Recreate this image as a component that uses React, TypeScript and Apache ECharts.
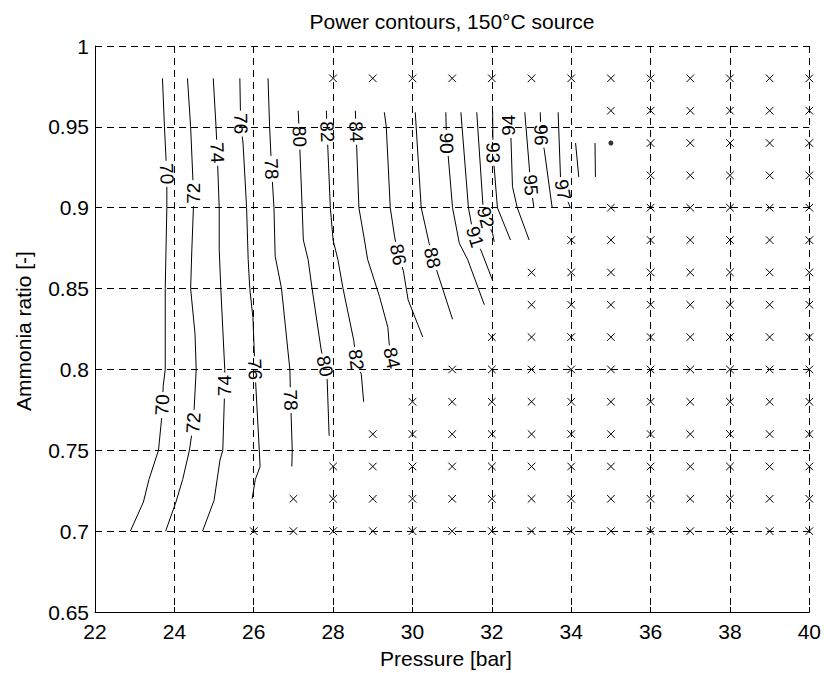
import React, { useEffect, useRef } from 'react';
import * as echarts from 'echarts';

const FONT = '"Liberation Sans", Arial, Helvetica, sans-serif';

// ---- axis ticks ----
const xTicks = [22, 24, 26, 28, 30, 32, 34, 36, 38, 40];
const yTicks = [0.65, 0.7, 0.75, 0.8, 0.85, 0.9, 0.95, 1];

// ---- evaluation grid (infeasible points marked with x) ----
const pressureGrid = [23, 24, 25, 26, 27, 28, 29, 30, 31, 32, 33, 34, 35, 36, 37, 38, 39, 40];
const ratioRows = [0.98, 0.96, 0.94, 0.92, 0.9, 0.88, 0.86, 0.84, 0.82, 0.8, 0.78, 0.76, 0.74, 0.72, 0.7];
const firstInfeasiblePressure = [28, 35, 36, 36, 35, 34, 33, 33, 32, 31, 30, 29, 28, 27, 26];
const optimumPoint = [35, 0.94];

// ---- contour lines: [pressure, ammonia ratio] ----
const contourLevels = [70, 72, 74, 76, 78, 80, 82, 84, 86, 88, 90, 91, 92, 93, 94, 95, 96, 97, 98, 99];

const contour70 = [[23.70, 0.98], [23.75, 0.95], [23.81, 0.92], [23.81, 0.9], [23.77, 0.85], [23.77, 0.8], [23.72, 0.79], [23.68, 0.77], [23.60, 0.75], [23.36, 0.732], [23.22, 0.718], [22.89, 0.7]];
const contour72 = [[24.33, 0.98], [24.41, 0.95], [24.48, 0.91], [24.48, 0.9], [24.44, 0.874], [24.41, 0.85], [24.52, 0.822], [24.55, 0.8], [24.48, 0.767], [24.38, 0.75], [24.21, 0.732], [24.04, 0.718], [23.78, 0.7]];
const contour74 = [[24.98, 0.98], [25.05, 0.95], [25.08, 0.934], [25.13, 0.9], [25.13, 0.874], [25.17, 0.85], [25.27, 0.8], [25.27, 0.79], [25.22, 0.75], [25.15, 0.744], [25.0, 0.719], [24.71, 0.7]];
const contour76 = [[25.65, 0.98], [25.67, 0.952], [25.73, 0.94], [25.82, 0.9], [25.86, 0.868], [25.90, 0.85], [25.98, 0.832], [26.03, 0.8], [26.14, 0.75], [26.16, 0.74], [26.04, 0.732], [25.96, 0.72]];
const contour78 = [[26.36, 0.98], [26.40, 0.95], [26.45, 0.924], [26.51, 0.9], [26.54, 0.87], [26.70, 0.85], [26.91, 0.8], [26.93, 0.781], [26.97, 0.75], [26.96, 0.74]];
const contour80 = [[27.12, 0.96], [27.15, 0.944], [27.22, 0.9], [27.25, 0.88], [27.37, 0.868], [27.47, 0.85], [27.70, 0.812], [27.79, 0.802], [27.85, 0.794], [27.90, 0.759]];
const contour82 = [[27.83, 0.96], [27.85, 0.947], [27.93, 0.9], [28.0, 0.88], [28.12, 0.868], [28.25, 0.85], [28.52, 0.818], [28.58, 0.806], [28.71, 0.797], [28.77, 0.78]];
const contour84 = [[28.56, 0.96], [28.58, 0.947], [28.65, 0.9], [28.79, 0.88], [28.87, 0.868], [29.17, 0.845], [29.38, 0.826], [29.42, 0.814], [29.48, 0.807], [29.55, 0.8]];
const contour86 = [[29.29, 0.959], [29.34, 0.95], [29.44, 0.9], [29.55, 0.882], [29.64, 0.871], [29.77, 0.861], [29.89, 0.843], [30.26, 0.82]];
const contour88 = [[30.07, 0.959], [30.22, 0.9], [30.42, 0.878], [30.50, 0.869], [30.60, 0.862], [31.01, 0.831]];
const contour90 = [[30.84, 0.959], [30.86, 0.94], [30.90, 0.932], [31.01, 0.9], [31.18, 0.878], [31.39, 0.868], [31.81, 0.84]];
const contour91 = [[31.22, 0.959], [31.41, 0.9], [31.50, 0.888], [31.60, 0.88], [31.72, 0.874], [32.02, 0.855]];
const contour92 = [[31.62, 0.959], [31.78, 0.9], [31.84, 0.894], [31.95, 0.888], [32.02, 0.884], [32.06, 0.879]];
const contour93 = [[32.02, 0.959], [32.03, 0.934], [32.14, 0.9], [32.47, 0.88]];
const contour94 = [[32.42, 0.959], [32.42, 0.951], [32.48, 0.944], [32.52, 0.913], [32.64, 0.9], [32.94, 0.88]];
const contour95 = [[32.83, 0.959], [32.98, 0.914], [33.06, 0.9]];
const contour96 = [[33.22, 0.959], [33.24, 0.945], [33.32, 0.936], [33.52, 0.9]];
const contour97 = [[33.67, 0.959], [33.73, 0.919], [33.79, 0.911], [33.88, 0.906], [33.98, 0.9]];
const contour98 = [[34.11, 0.94], [34.19, 0.919]];
const contour99 = [[34.60, 0.94], [34.61, 0.919]];

const contourLines = [contour70, contour72, contour74, contour76, contour78, contour80, contour82, contour84, contour86, contour88, contour90, contour91, contour92, contour93, contour94, contour95, contour96, contour97, contour98, contour99];

// ammonia ratio at which each contour label is centred
const contourLabelRatios = [
  [0.921, 0.778], [0.909, 0.767], [0.934, 0.79], [0.952, 0.8], [0.924, 0.781],
  [0.944, 0.802], [0.947, 0.806], [0.947, 0.807], [0.871], [0.869],
  [0.94], [0.882], [0.894], [0.934], [0.951], [0.914], [0.945], [0.911], [], []
];

const HALF_GAP = 13;

function renderContour(params: any, api: any) {
  const idx = api.value(2);
  const pts = contourLines[idx];
  const px = pts.map((p) => api.coord(p));
  const s = [0];
  for (let i = 1; i < px.length; i++) {
    s.push(s[i - 1] + Math.hypot(px[i][0] - px[i - 1][0], px[i][1] - px[i - 1][1]));
  }
  const total = s[s.length - 1];
  const children: any[] = [];
  const gaps: number[][] = [];
  for (const la of contourLabelRatios[idx]) {
    for (let k = 0; k < pts.length - 1; k++) {
      const a0 = pts[k][1];
      const a1 = pts[k + 1][1];
      if (a0 !== a1 && (a0 - la) * (a1 - la) <= 0) {
        const t = (a0 - la) / (a0 - a1);
        const x = px[k][0] + t * (px[k + 1][0] - px[k][0]);
        const y = px[k][1] + t * (px[k + 1][1] - px[k][1]);
        const sc = s[k] + t * (s[k + 1] - s[k]);
        let ang = Math.atan2(-(px[k + 1][1] - px[k][1]), px[k + 1][0] - px[k][0]);
        if (ang > Math.PI / 2) ang -= Math.PI;
        if (ang <= -Math.PI / 2) ang += Math.PI;
        gaps.push([sc - HALF_GAP, sc + HALF_GAP]);
        children.push({
          type: 'text',
          x,
          y,
          rotation: ang,
          style: {
            text: String(contourLevels[idx]),
            fill: '#000',
            fontSize: 19,
            fontFamily: FONT,
            align: 'center',
            verticalAlign: 'middle',
          },
        });
        break;
      }
    }
  }
  gaps.sort((a, b) => a[0] - b[0]);
  const intervals: number[][] = [];
  let cur = 0;
  for (const g of gaps) {
    if (g[0] > cur) intervals.push([cur, g[0]]);
    cur = Math.max(cur, g[1]);
  }
  if (cur < total) intervals.push([cur, total]);
  const pointAt = (sv: number) => {
    for (let k = 0; k < px.length - 1; k++) {
      if (sv <= s[k + 1] || k === px.length - 2) {
        const d = s[k + 1] - s[k] || 1;
        const t = Math.min(1, Math.max(0, (sv - s[k]) / d));
        return [px[k][0] + t * (px[k + 1][0] - px[k][0]), px[k][1] + t * (px[k + 1][1] - px[k][1])];
      }
    }
    return px[px.length - 1];
  };
  for (const [u, v] of intervals) {
    const seg = [pointAt(u)];
    for (let k = 0; k < px.length; k++) if (s[k] > u && s[k] < v) seg.push(px[k]);
    seg.push(pointAt(v));
    children.push({
      type: 'polyline',
      shape: { points: seg },
      style: { stroke: '#000', lineWidth: 1, fill: null },
    });
  }
  return { type: 'group', children };
}

function renderCross(params: any, api: any) {
  const [x, y] = api.coord([api.value(0), api.value(1)]);
  const r = 3.8;
  const st = { stroke: '#000', lineWidth: 1 };
  return {
    type: 'group',
    children: [
      { type: 'line', shape: { x1: x - r, y1: y - r, x2: x + r, y2: y + r }, style: st },
      { type: 'line', shape: { x1: x - r, y1: y + r, x2: x + r, y2: y - r }, style: st },
    ],
  };
}

export default function App() {
  const ref = useRef<HTMLDivElement>(null);
  useEffect(() => {
    document.body.style.margin = '0';
    const chart = echarts.init(ref.current!, null, { renderer: 'svg' });

    const crosses: number[][] = [];
    ratioRows.forEach((a, i) => {
      pressureGrid.forEach((p) => {
        if (p >= firstInfeasiblePressure[i]) crosses.push([p, a]);
      });
    });

    const gridLine = { show: true, lineStyle: { color: '#000', width: 1, type: [7, 5] as any } };
    const axisText = { color: '#000', fontSize: 21, fontFamily: FONT };

    chart.setOption({
      animation: false,
      backgroundColor: '#fff',
      grid: { left: 95, right: 13, top: 46, bottom: 61, containLabel: false },
      xAxis: {
        type: 'value',
        min: xTicks[0],
        max: xTicks[xTicks.length - 1],
        interval: 2,
        axisLine: { show: true, onZero: false, lineStyle: { color: '#000', width: 1 } },
        axisTick: { show: true, inside: true, length: 5, lineStyle: { color: '#000' } },
        splitLine: gridLine,
        axisLabel: { ...axisText, margin: 9 },
      },
      yAxis: {
        type: 'value',
        min: yTicks[0],
        max: yTicks[yTicks.length - 1],
        interval: 0.05,
        axisLine: { show: true, onZero: false, lineStyle: { color: '#000', width: 1 } },
        axisTick: { show: true, inside: true, length: 5, lineStyle: { color: '#000' } },
        splitLine: gridLine,
        axisLabel: {
          ...axisText,
          margin: 6,
          formatter: (v: number) => String(parseFloat(v.toFixed(2))),
        },
      },
      graphic: [
        {
          type: 'text',
          x: 452,
          y: 21,
          style: { text: 'Power contours, 150°C source', fill: '#000', fontSize: 21, fontFamily: FONT, align: 'center', verticalAlign: 'middle' },
        },
        {
          type: 'text',
          x: 446,
          y: 658,
          style: { text: 'Pressure [bar]', fill: '#000', fontSize: 21, fontFamily: FONT, align: 'center', verticalAlign: 'middle' },
        },
        {
          type: 'text',
          x: 23,
          y: 331,
          rotation: Math.PI / 2,
          style: { text: 'Ammonia ratio [-]', fill: '#000', fontSize: 21, fontFamily: FONT, align: 'center', verticalAlign: 'middle' },
        },
      ],
      series: [
        {
          type: 'custom',
          coordinateSystem: 'cartesian2d',
          renderItem: renderContour,
          data: contourLines.map((c, i) => [c[0][0], c[0][1], i]),
          silent: true,
          z: 3,
        },
        {
          type: 'custom',
          coordinateSystem: 'cartesian2d',
          renderItem: renderCross,
          data: crosses,
          silent: true,
          z: 4,
        },
        {
          type: 'scatter',
          data: [optimumPoint],
          symbol: 'circle',
          symbolSize: 5,
          itemStyle: { color: '#000' },
          silent: true,
          z: 5,
        },
      ],
    });
    return () => chart.dispose();
  }, []);
  return <div ref={ref} style={{ width: 824, height: 673 }} />;
}
